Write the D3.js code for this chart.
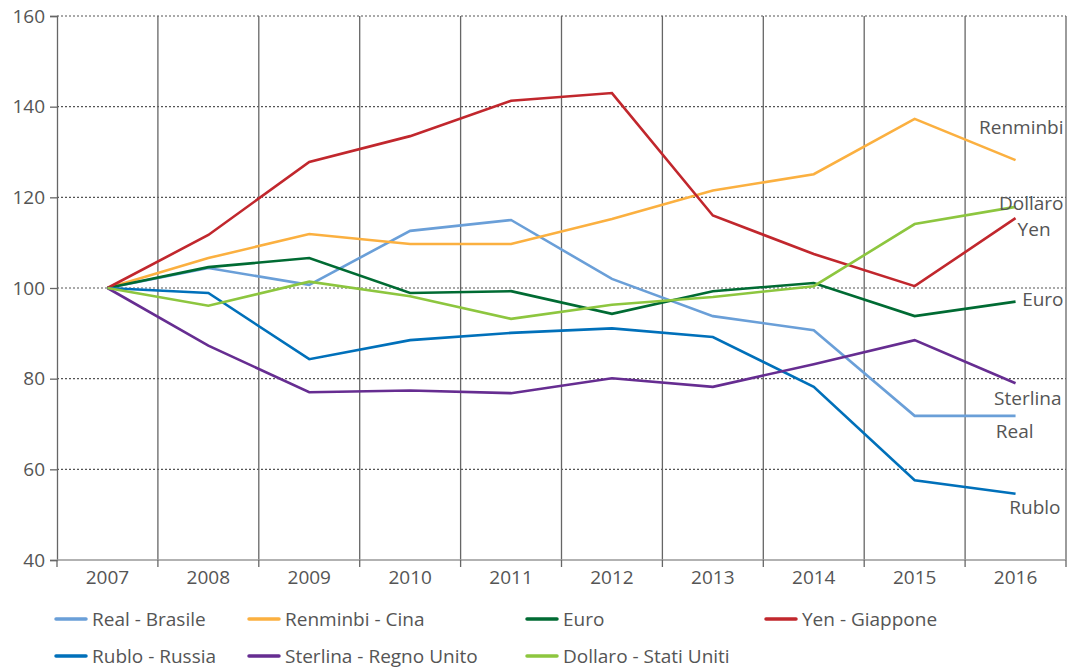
<!DOCTYPE html>
<html>
<head>
<meta charset="utf-8">
<script src="https://cdn.jsdelivr.net/npm/d3@7"></script>
<style>
    body { margin: 0; background: #fff; }
    text { font-family: "Open Sans", sans-serif; fill: #555; }
</style>
</head>
<body>
<svg></svg>
<script>
//-------------------
// DATA
//-------------------
var years = ["2007", "2008", "2009", "2010", "2011", "2012", "2013", "2014", "2015", "2016"];
var yTicks = [40, 60, 80, 100, 120, 140, 160];

var real     = [100, 104.4, 100.7, 112.6, 115.0, 102.0, 93.8, 90.7, 71.8, 71.8];
var renminbi = [100, 106.6, 111.9, 109.7, 109.7, 115.2, 121.5, 125.1, 137.3, 128.2];
var euro     = [100, 104.6, 106.6, 98.9, 99.3, 94.3, 99.3, 101.1, 93.8, 97.0];
var yen      = [100, 111.7, 127.8, 133.5, 141.3, 143.0, 116.0, 107.5, 100.4, 115.4];
var rublo    = [100, 98.9, 84.3, 88.5, 90.1, 91.1, 89.2, 78.2, 57.6, 54.6];
var sterlina = [100, 87.3, 77.0, 77.4, 76.8, 80.1, 78.2, 83.2, 88.5, 79.0];
var dollaro  = [100, 96.1, 101.4, 98.2, 93.2, 96.3, 98.0, 100.4, 114.1, 117.9];

var seriesNames = ["Real - Brasile", "Renminbi - Cina", "Euro", "Yen - Giappone",
                   "Rublo - Russia", "Sterlina - Regno Unito", "Dollaro - Stati Uniti"];
var endLabels = ["Real", "Renminbi", "Euro", "Yen", "Rublo", "Sterlina", "Dollaro"];
var seriesValues = [real, renminbi, euro, yen, rublo, sterlina, dollaro];
var colors = ["#6a9fd8", "#fbb040", "#006b33", "#c1272d", "#0070ba", "#662d91", "#8dc63f"];

//-------------------
// SETUP
//-------------------
var width = 1068, height = 669;
var fontSize = "19px";
var svg = d3.select("svg").attr("width", width).attr("height", height);

var x = d3.scaleBand().domain(years).range([57, 1066]);
var y = d3.scaleLinear().domain([40, 160]).range([560, 16]);
var cx = d => x(d) + x.bandwidth() / 2;

// horizontal dotted grid
svg.append("g").selectAll("line").data(yTicks.filter(t => t > 40))
    .enter().append("line")
    .attr("x1", 57).attr("x2", 1066)
    .attr("y1", d => y(d)).attr("y2", d => y(d))
    .attr("stroke", "#555").attr("stroke-width", 1.2)
    .attr("stroke-dasharray", "2,2");

// vertical solid grid
svg.append("g").selectAll("line").data(years.slice(1).concat(["end"]))
    .enter().append("line")
    .attr("x1", d => d === "end" ? 1066 : x(d))
    .attr("x2", d => d === "end" ? 1066 : x(d))
    .attr("y1", 16).attr("y2", 560)
    .attr("stroke", "#666").attr("stroke-width", 1.3);

// left axis
var yAxis = d3.axisLeft(y).tickValues(yTicks).tickSize(7).tickPadding(5);
var gy = svg.append("g").attr("transform", "translate(57,0)").call(yAxis);
gy.select(".domain").attr("stroke", "#666").attr("stroke-width", 1.3);
gy.selectAll(".tick line").attr("stroke", "#666").attr("stroke-width", 1.3);
gy.selectAll("text").style("font-size", fontSize).style("fill", "#555")
    .style("font-family", "Open Sans, sans-serif");

// bottom axis
svg.append("line").attr("x1", 57).attr("x2", 1066).attr("y1", 560).attr("y2", 560)
    .attr("stroke", "#999").attr("stroke-width", 1.5);
var boundaries = years.map(d => x(d)).concat([1066]);
svg.append("g").selectAll("line").data(boundaries)
    .enter().append("line")
    .attr("x1", d => d).attr("x2", d => d)
    .attr("y1", 560).attr("y2", 567)
    .attr("stroke", "#666").attr("stroke-width", 1.3);
svg.append("g").selectAll("text").data(years)
    .enter().append("text")
    .attr("x", d => cx(d)).attr("y", 584)
    .attr("text-anchor", "middle")
    .style("font-size", fontSize)
    .text(d => d);

//-------------------
// LINES
//-------------------
var line = d3.line()
    .x((d, i) => cx(years[i]))
    .y(d => y(d));

svg.append("g").selectAll("path").data(seriesValues)
    .enter().append("path")
    .attr("d", line)
    .attr("fill", "none")
    .attr("stroke", (d, i) => colors[i])
    .attr("stroke-width", 2.6)
    .attr("stroke-linejoin", "miter");

// end labels (offset from last point)
var labelOffsets = [[18, 16], [48, -33], [48, -2], [35, 11],
                    [45, 14], [46, 15], [48, -4]];
var last = years[years.length - 1];
svg.append("g").selectAll("text").data(seriesValues)
    .enter().append("text")
    .attr("x", (d, i) => cx(last) + labelOffsets[i][0])
    .attr("y", (d, i) => y(d[d.length - 1]) + labelOffsets[i][1])
    .attr("text-anchor", "end")
    .attr("dy", "0.35em")
    .style("font-size", fontSize)
    .text((d, i) => endLabels[i]);

//-------------------
// LEGEND
//-------------------
var legendCols = [56, 249, 527, 766];
var legendRows = [619, 656];
var legend = svg.append("g").selectAll("g").data(seriesNames)
    .enter().append("g")
    .attr("transform", (d, i) => "translate(" + legendCols[i % 4] + "," + legendRows[Math.floor(i / 4)] + ")");
legend.append("line")
    .attr("x1", 0).attr("x2", 30).attr("y1", 0).attr("y2", 0)
    .attr("stroke", (d, i) => colors[i])
    .attr("stroke-width", 3.5)
    .attr("stroke-linecap", "round");
legend.append("text")
    .attr("x", 36).attr("y", 0).attr("dy", "0.35em")
    .style("font-size", fontSize)
    .text(d => d);
</script>
</body>
</html>
